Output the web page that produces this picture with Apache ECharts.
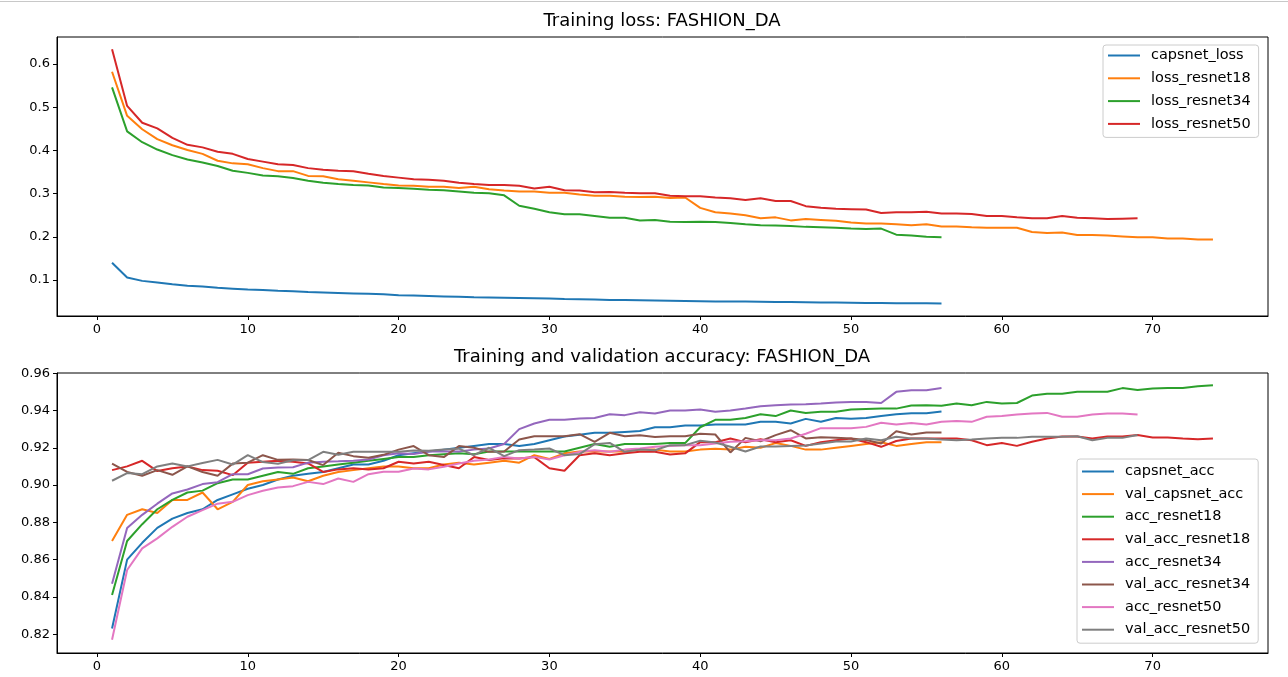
<!DOCTYPE html>
<html>
<head>
<meta charset="utf-8">
<script src="https://cdn.jsdelivr.net/npm/echarts@6/dist/echarts.min.js"></script>
<style>
html,body{margin:0;padding:0;background:#fff;}
#chart{width:1288px;height:677px;}
</style>
</head>
<body>
<div id="chart"></div>
<script>
// ---------- Data (epoch index = position + 1) ----------
const capsnetLoss = [0.140,0.106,0.098,0.094,0.090,0.087,0.085,0.082,0.080,0.078,
0.077,0.075,0.074,0.072,0.071,0.070,0.069,0.068,0.067,0.065,
0.064,0.063,0.062,0.061,0.060,0.0595,0.059,0.0585,0.058,0.057,
0.056,0.0555,0.055,0.054,0.0535,0.053,0.0525,0.052,0.0515,0.051,
0.0505,0.050,0.050,0.0495,0.049,0.049,0.0485,0.048,0.048,0.0475,
0.047,0.047,0.0465,0.046,0.046,0.0455];
const lossResnet18 = [0.582,0.480,0.449,0.426,0.412,0.401,0.392,0.376,0.370,0.368,
0.359,0.352,0.352,0.341,0.340,0.333,0.330,0.326,0.322,0.319,
0.318,0.316,0.316,0.313,0.316,0.310,0.307,0.305,0.305,0.302,
0.302,0.298,0.295,0.295,0.293,0.292,0.293,0.290,0.291,0.267,
0.257,0.254,0.250,0.243,0.245,0.238,0.241,0.239,0.237,0.233,
0.231,0.231,0.229,0.227,0.229,0.224,0.224,0.222,0.221,0.221,
0.221,0.211,0.209,0.210,0.204,0.204,0.203,0.201,0.199,0.199,
0.196,0.196,0.194,0.194];
const lossResnet34 = [0.546,0.444,0.419,0.402,0.389,0.379,0.372,0.364,0.353,0.348,
0.342,0.340,0.336,0.330,0.325,0.322,0.320,0.319,0.314,0.313,
0.311,0.309,0.308,0.305,0.302,0.301,0.296,0.272,0.265,0.257,
0.252,0.252,0.248,0.244,0.244,0.238,0.239,0.235,0.234,0.235,
0.234,0.232,0.229,0.227,0.226,0.225,0.223,0.222,0.221,0.219,
0.218,0.219,0.205,0.203,0.200,0.199];
const lossResnet50 = [0.634,0.503,0.464,0.451,0.429,0.413,0.407,0.397,0.392,0.380,
0.374,0.368,0.366,0.359,0.355,0.353,0.352,0.346,0.341,0.337,
0.333,0.332,0.330,0.325,0.322,0.320,0.320,0.318,0.312,0.316,
0.308,0.307,0.303,0.304,0.302,0.301,0.301,0.295,0.294,0.294,
0.291,0.289,0.285,0.289,0.283,0.283,0.271,0.267,0.265,0.264,
0.263,0.255,0.257,0.257,0.258,0.254,0.254,0.253,0.248,0.248,
0.245,0.243,0.243,0.248,0.244,0.243,0.241,0.242,0.243];

const capsnetAcc = [0.823,0.860,0.869,0.877,0.882,0.885,0.887,0.892,0.895,0.898,
0.900,0.903,0.905,0.906,0.907,0.909,0.911,0.911,0.913,0.916,
0.917,0.918,0.919,0.920,0.921,0.922,0.922,0.921,0.922,0.924,
0.926,0.927,0.928,0.928,0.9285,0.929,0.931,0.931,0.932,0.932,
0.9325,0.9325,0.9325,0.934,0.934,0.933,0.9355,0.934,0.936,0.9355,
0.936,0.937,0.938,0.9385,0.9385,0.9395];
const valCapsnetAcc = [0.870,0.884,0.887,0.885,0.892,0.892,0.896,0.887,0.891,0.900,
0.902,0.903,0.904,0.902,0.905,0.907,0.908,0.909,0.910,0.910,
0.909,0.909,0.911,0.912,0.911,0.912,0.913,0.912,0.916,0.914,
0.917,0.918,0.918,0.918,0.918,0.919,0.919,0.918,0.918,0.919,
0.9195,0.919,0.9205,0.920,0.9225,0.921,0.919,0.919,0.920,0.921,
0.922,0.923,0.921,0.922,0.923,0.923];
const accResnet18 = [0.841,0.870,0.879,0.887,0.892,0.896,0.897,0.901,0.903,0.903,
0.905,0.907,0.906,0.909,0.910,0.911,0.912,0.913,0.914,0.915,
0.915,0.916,0.9165,0.917,0.9165,0.918,0.918,0.918,0.918,0.918,
0.918,0.920,0.922,0.9205,0.922,0.922,0.922,0.9225,0.9225,0.931,
0.935,0.935,0.936,0.938,0.937,0.940,0.9387,0.9393,0.9393,0.9405,
0.9408,0.941,0.941,0.9427,0.9428,0.9425,0.9437,0.9428,0.9446,0.9437,
0.944,0.948,0.949,0.949,0.950,0.950,0.950,0.952,0.951,0.9518,
0.952,0.952,0.953,0.9535];
const valAccResnet18 = [0.908,0.910,0.913,0.9075,0.909,0.910,0.908,0.9077,0.9053,0.912,
0.9125,0.913,0.9125,0.9116,0.907,0.9084,0.909,0.9084,0.909,0.9125,
0.9116,0.9125,0.9107,0.909,0.915,0.9134,0.9143,0.9143,0.915,0.909,
0.9077,0.916,0.917,0.916,0.917,0.9178,0.9178,0.9164,0.917,0.923,
0.923,0.925,0.923,0.9246,0.923,0.924,0.921,0.923,0.924,0.925,
0.923,0.9205,0.9236,0.925,0.925,0.925,0.925,0.924,0.9214,0.9225,
0.921,0.9232,0.925,0.926,0.926,0.925,0.926,0.926,0.9268,0.9255,
0.9255,0.925,0.9246,0.925];
const accResnet34 = [0.847,0.877,0.884,0.890,0.8955,0.8976,0.9005,0.9015,0.9058,0.9058,
0.9089,0.9094,0.9095,0.912,0.9125,0.9127,0.913,0.9137,0.916,0.917,
0.9166,0.918,0.918,0.918,0.919,0.9196,0.922,0.930,0.933,0.935,
0.935,0.9357,0.936,0.938,0.9375,0.939,0.9384,0.940,0.940,0.9405,
0.9393,0.940,0.941,0.9423,0.9428,0.9432,0.9434,0.9437,0.9443,0.9446,
0.9446,0.944,0.950,0.9509,0.9509,0.952];
const valAccResnet34 = [0.9115,0.907,0.905,0.908,0.9055,0.910,0.907,0.905,0.9115,0.912,
0.916,0.9135,0.9137,0.9134,0.9107,0.9173,0.9155,0.9146,0.9162,0.919,
0.9209,0.916,0.915,0.9209,0.920,0.9178,0.918,0.9244,0.9262,0.9262,
0.9262,0.9273,0.9232,0.928,0.9262,0.9267,0.9258,0.9262,0.9262,0.9275,
0.9271,0.9175,0.9253,0.9235,0.9268,0.9294,0.925,0.9256,0.9253,0.925,
0.9242,0.9223,0.9289,0.9271,0.9282,0.9282];
const accResnet50 = [0.817,0.8544,0.866,0.8714,0.8776,0.883,0.8865,0.890,0.891,0.8946,
0.8969,0.8987,0.8994,0.9017,0.9005,0.9035,0.9017,0.9058,0.9071,0.9071,
0.9089,0.9084,0.9098,0.9116,0.913,0.9137,0.9151,0.9142,0.9151,0.9137,
0.916,0.9178,0.9187,0.9178,0.919,0.9196,0.9205,0.9209,0.9214,0.9214,
0.9223,0.9232,0.9235,0.924,0.924,0.925,0.9275,0.9305,0.9305,0.9305,
0.9312,0.9334,0.9325,0.9333,0.9325,0.9339,0.9343,0.9339,0.9366,0.937,
0.9378,0.9384,0.9387,0.9366,0.9366,0.9378,0.9384,0.9384,0.9378];
const valAccResnet50 = [0.9023,0.9064,0.9058,0.910,0.9116,0.910,0.9118,0.9135,0.911,0.916,
0.9123,0.9114,0.9133,0.9134,0.9178,0.9163,0.9178,0.9178,0.9178,0.9178,
0.9185,0.9184,0.919,0.9195,0.916,0.920,0.9155,0.9187,0.919,0.9196,
0.916,0.9166,0.9219,0.9226,0.9178,0.919,0.9187,0.9214,0.9214,0.9238,
0.9228,0.9205,0.918,0.9207,0.9207,0.921,0.9212,0.9223,0.9234,0.9234,
0.925,0.924,0.9259,0.925,0.925,0.9244,0.924,0.9244,0.925,0.9253,
0.9253,0.9259,0.9259,0.9259,0.9262,0.924,0.9253,0.9253,0.9268];

const xTicks = [0,10,20,30,40,50,60,70];
const lossTicks = [0.1,0.2,0.3,0.4,0.5,0.6];
const accTicks = [0.82,0.84,0.86,0.88,0.90,0.92,0.94,0.96];

const lossTitle = 'Training loss: FASHION_DA';
const accTitle = 'Training and validation accuracy: FASHION_DA';

const lossSeries = [
  ['capsnet_loss', capsnetLoss],
  ['loss_resnet18', lossResnet18],
  ['loss_resnet34', lossResnet34],
  ['loss_resnet50', lossResnet50]
];
const accSeries = [
  ['capsnet_acc', capsnetAcc],
  ['val_capsnet_acc', valCapsnetAcc],
  ['acc_resnet18', accResnet18],
  ['val_acc_resnet18', valAccResnet18],
  ['acc_resnet34', accResnet34],
  ['val_acc_resnet34', valAccResnet34],
  ['acc_resnet50', accResnet50],
  ['val_acc_resnet50', valAccResnet50]
];
const palette = ['#1f77b4','#ff7f0e','#2ca02c','#d62728','#9467bd','#8c564b','#e377c2','#7f7f7f'];

// ---------- Chart ----------
const FONT = 'DejaVu Sans';
const chart = echarts.init(document.getElementById('chart'), null, {renderer: 'canvas'});

function xAxis(gridIndex) {
  return {
    type: 'value', gridIndex: gridIndex, min: -2.65, max: 77.65,
    axisLine: {show: true, onZero: false, lineStyle: {color: '#000', width: 1}},
    axisTick: {show: true, length: 4, customValues: xTicks, lineStyle: {color: '#000', width: 1}},
    axisLabel: {show: true, customValues: xTicks, margin: 7, color: '#000', fontSize: 13, fontFamily: FONT,
                formatter: v => String(Math.round(v))},
    splitLine: {show: false}
  };
}
function yAxis(gridIndex, min, max, ticks, digits) {
  return {
    type: 'value', gridIndex: gridIndex, min: min, max: max,
    axisLine: {show: true, onZero: false, lineStyle: {color: '#000', width: 1}},
    axisTick: {show: true, length: 4, customValues: ticks, lineStyle: {color: '#000', width: 1}},
    axisLabel: {show: true, customValues: ticks, margin: 7, color: '#000', fontSize: 13, fontFamily: FONT,
                formatter: v => v.toFixed(digits)},
    splitLine: {show: false}
  };
}

const series = [];
lossSeries.forEach(([name, arr], i) => {
  series.push({
    name: name, type: 'line', xAxisIndex: 0, yAxisIndex: 0,
    data: arr.map((v, k) => [k + 1, v]),
    showSymbol: false, symbol: 'none',
    lineStyle: {color: palette[i], width: 2},
    itemStyle: {color: palette[i]},
    emphasis: {disabled: true}, animation: false
  });
});
accSeries.forEach(([name, arr], i) => {
  series.push({
    name: name, type: 'line', xAxisIndex: 1, yAxisIndex: 1,
    data: arr.map((v, k) => [k + 1, v]),
    showSymbol: false, symbol: 'none',
    lineStyle: {color: palette[i], width: 2},
    itemStyle: {color: palette[i]},
    emphasis: {disabled: true}, animation: false
  });
});

const legendCommon = {
  orient: 'vertical', icon: 'rect', itemWidth: 32, itemHeight: 2,
  backgroundColor: 'rgba(255,255,255,0.8)', borderColor: '#cccccc', borderWidth: 1, borderRadius: 3,
  textStyle: {fontSize: 14.5, fontFamily: FONT, color: '#000', lineHeight: 17, padding: [0, 0, 0, 6]},
  selectedMode: false
};

chart.setOption({
  animation: false,
  backgroundColor: '#ffffff',
  title: [
    {text: lossTitle, left: 662, top: 12, textAlign: 'center', padding: 0,
     textStyle: {fontSize: 18, fontWeight: 'normal', fontFamily: FONT, color: '#000', lineHeight: 18}},
    {text: accTitle, left: 662, top: 348, textAlign: 'center', padding: 0,
     textStyle: {fontSize: 18, fontWeight: 'normal', fontFamily: FONT, color: '#000', lineHeight: 18}}
  ],
  grid: [
    {left: 57, top: 37, width: 1211, height: 279, show: true, borderColor: '#000', borderWidth: 1, backgroundColor: 'transparent'},
    {left: 57, top: 373, width: 1211, height: 280, show: true, borderColor: '#000', borderWidth: 1, backgroundColor: 'transparent'}
  ],
  xAxis: [xAxis(0), xAxis(1)],
  yAxis: [yAxis(0, 0.0167, 0.6625, lossTicks, 1), yAxis(1, 0.8099, 0.9601, accTicks, 2)],
  legend: [
    Object.assign({}, legendCommon, {data: lossSeries.map(s => s[0]), left: 1103, top: 45, padding: [2, 8, 5, 5], itemGap: 5.8}),
    Object.assign({}, legendCommon, {data: accSeries.map(s => s[0]), left: 1077, top: 459, padding: [4, 8, 5, 5], itemGap: 5.6})
  ],
  graphic: [
    {type: 'rect', shape: {x: 0, y: 1, width: 1288, height: 1}, style: {fill: '#c8c8c8'}, silent: true}
  ],
  series: series
});
</script>
</body>
</html>
